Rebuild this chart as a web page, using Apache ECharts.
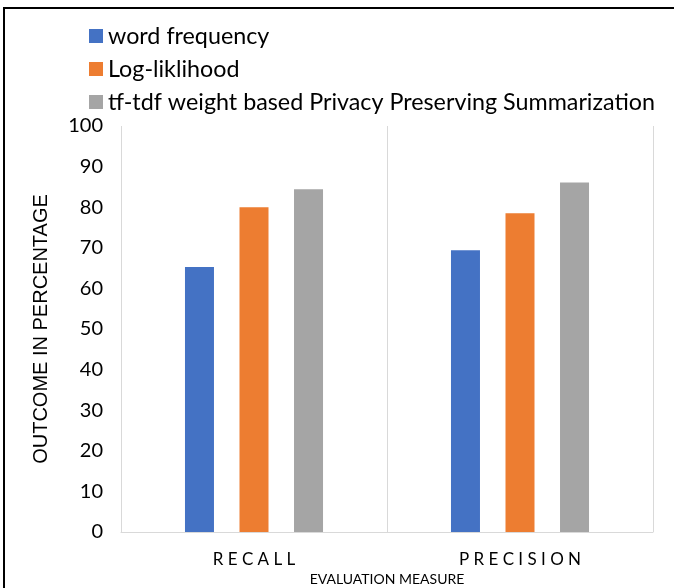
<!DOCTYPE html>
<html>
<head>
<meta charset="utf-8">
<script src="https://cdn.jsdelivr.net/npm/echarts@6/dist/echarts.min.js"></script>
<style>
html,body{margin:0;padding:0;background:#fff;overflow:hidden;}
#chart{width:674px;height:588px;}
</style>
</head>
<body>
<div id="chart"></div>
<script>
var categories = ['R E C A L L', 'P R E C I S I O N'];
var seriesNames = ['word frequency', 'Log-liklihood', 'tf-tdf weight based Privacy Preserving Summarization'];
var wordFrequency = [65.3, 69.4];
var logLikelihood = [80.0, 78.5];
var tfIdfPrivacy = [84.4, 86.1];
var yTicks = [0, 10, 20, 30, 40, 50, 60, 70, 80, 90, 100];
var colors = ['#4472C4', '#ED7D31', '#A5A5A5'];

var chart = echarts.init(document.getElementById('chart'), null, {renderer: 'canvas'});
var values = [wordFrequency, logLikelihood, tfIdfPrivacy];
var font = 'Lato, "Open Sans", sans-serif';

chart.setOption({
  animation: false,
  backgroundColor: '#fff',
  graphic: [{
    type: 'rect',
    shape: {x: 4, y: 8, width: 720, height: 640},
    style: {fill: 'none', stroke: '#000', lineWidth: 2},
    silent: true
  }],
  legend: {
    orient: 'vertical',
    left: 89,
    top: 24,
    padding: 0,
    itemWidth: 14,
    itemHeight: 14,
    itemGap: 9,
    icon: 'rect',
    textStyle: {fontFamily: font, fontSize: 23.3, color: '#000', lineHeight: 24},
    data: seriesNames
  },
  grid: {left: 121, right: 21, top: 126, bottom: 56, containLabel: false, outerBoundsMode: 'none'},
  xAxis: {
    type: 'category',
    data: categories,
    name: 'EVALUATION MEASURE',
    nameLocation: 'middle',
    nameGap: 39,
    nameTextStyle: {fontFamily: font, fontSize: 14, color: '#000'},
    axisLine: {show: true, lineStyle: {color: '#d9d9d9', width: 1}},
    axisTick: {show: false},
    splitLine: {show: true, lineStyle: {color: '#d9d9d9', width: 1}},
    axisLabel: {fontFamily: font, fontSize: 17, color: '#000', margin: 19}
  },
  yAxis: {
    type: 'value',
    min: yTicks[0],
    max: yTicks[yTicks.length - 1],
    interval: 10,
    name: 'OUTCOME IN PERCENTAGE',
    nameLocation: 'middle',
    nameRotate: 90,
    nameGap: 70,
    nameTextStyle: {fontFamily: '"Liberation Sans", Arial, sans-serif', fontSize: 20, color: '#000'},
    axisLine: {show: false},
    axisTick: {show: false},
    splitLine: {show: false},
    axisLabel: {fontFamily: font, fontSize: 20, color: '#000', margin: 18}
  },
  series: seriesNames.map(function (n, i) {
    return {
      name: n,
      type: 'bar',
      data: values[i],
      barWidth: 29,
      barGap: '88%',
      itemStyle: {color: colors[i]}
    };
  })
});
</script>
</body>
</html>
